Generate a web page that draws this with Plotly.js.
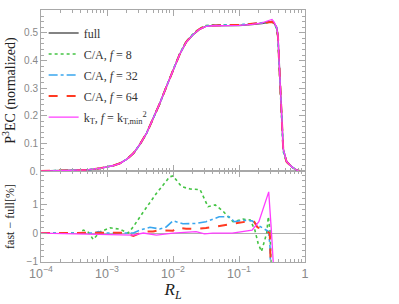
<!DOCTYPE html>
<html>
<head>
<meta charset="utf-8">
<script src="https://cdn.plot.ly/plotly-3.0.1.min.js"></script>
<style>html,body{margin:0;padding:0;background:#fff;}#chart{width:399px;height:304px;}</style>
</head>
<body>
<div id="chart"></div>
<script>
// ---- Top panel: normalized P3EC vs R_L ----
const rTop = [1e-4, 3.16e-4, 5.0e-4, 7.94e-4, 1.26e-3, 1.58e-3, 2.0e-3, 2.51e-3, 3.16e-3, 3.98e-3,
  5.01e-3, 6.31e-3, 7.94e-3, 0.01, 0.0126, 0.0158, 0.02, 0.0251, 0.0316, 0.0398,
  0.063, 0.1, 0.158, 0.224, 0.282, 0.316, 0.339, 0.372, 0.389, 0.417,
  0.468, 0.525, 0.631, 0.741, 0.832];
const topFull = [0, 0.001, 0.004, 0.010, 0.020, 0.028, 0.043, 0.064, 0.097, 0.137,
  0.188, 0.245, 0.305, 0.365, 0.422, 0.466, 0.493, 0.513, 0.524, 0.526,
  0.526, 0.527, 0.531, 0.534, 0.539, 0.541, 0.536, 0.520, 0.490, 0.340,
  0.080, 0.035, 0.015, 0.004, 0.000];
const topCA8 = [0, 0.001, 0.004, 0.010, 0.020, 0.028, 0.043, 0.064, 0.097, 0.137,
  0.188, 0.245, 0.306, 0.367, 0.424, 0.469, 0.496, 0.516, 0.527, 0.529,
  0.529, 0.529, 0.533, 0.535, 0.538, 0.540, 0.534, 0.515, 0.480, 0.320,
  0.070, 0.032, 0.014, 0.004, 0.000];
const topCA32 = [0, 0.001, 0.004, 0.010, 0.020, 0.028, 0.043, 0.064, 0.097, 0.137,
  0.188, 0.245, 0.305, 0.366, 0.423, 0.467, 0.494, 0.514, 0.525, 0.528,
  0.529, 0.529, 0.533, 0.536, 0.539, 0.541, 0.536, 0.518, 0.486, 0.330,
  0.075, 0.034, 0.015, 0.004, 0.000];
const topCA64 = [0, 0.001, 0.004, 0.010, 0.020, 0.028, 0.043, 0.064, 0.097, 0.137,
  0.188, 0.245, 0.305, 0.365, 0.422, 0.467, 0.494, 0.514, 0.525, 0.527,
  0.528, 0.529, 0.533, 0.536, 0.539, 0.540, 0.536, 0.518, 0.487, 0.335,
  0.078, 0.034, 0.015, 0.004, 0.000];
const topKT = [0, 0.001, 0.004, 0.010, 0.020, 0.028, 0.043, 0.064, 0.097, 0.137,
  0.188, 0.245, 0.305, 0.365, 0.422, 0.466, 0.493, 0.513, 0.524, 0.526,
  0.526, 0.527, 0.531, 0.536, 0.545, 0.549, 0.540, 0.520, 0.490, 0.340,
  0.080, 0.035, 0.015, 0.004, 0.000];

// ---- Bottom panel: (fast - full) in % ----
const rCA8 = [1e-4, 3.8e-4, 4.37e-4, 5.25e-4, 6.17e-4, 7.94e-4, 1.12e-3, 1.58e-3, 2.09e-3, 2.51e-3,
  3.55e-3, 5.62e-3, 8.9e-3, 0.01, 0.0135, 0.0182, 0.0257, 0.0339, 0.0437, 0.0575,
  0.0813, 0.115, 0.148, 0.174, 0.195, 0.219, 0.263, 0.278, 0.295, 0.305, 0.324];
const dCA8 = [0, 0, 0.10, 0.02, -0.22, 0.05, 0.18, 0.13, 0.0, 0.22,
  0.73, 1.37, 1.94, 1.97, 1.60, 1.52, 1.50, 0.91, 0.97, 0.75,
  0.39, 0.48, 0.45, 0.10, -0.36, -0.64, 0.0, 0.56, 0.10, -0.93, -3.0];

const rCA32 = [1e-4, 6.3e-4, 7.4e-4, 8.9e-4, 2.51e-3, 3.16e-3, 4.47e-3, 6.3e-3, 7.9e-3, 0.01,
  0.0141, 0.0224, 0.0316, 0.05, 0.0708, 0.085, 0.112, 0.158, 0.19, 0.251,
  0.282, 0.295, 0.316];
const dCA32 = [0, 0, 0.05, 0, 0.0, 0.10, 0.20, 0.14, 0.21, 0.42,
  0.32, 0.33, 0.39, 0.56, 0.56, 0.39, 0.44, 0.42, 0.28, 0.10,
  0.05, -0.47, -3.0];

const rCA64 = [1e-4, 1.78e-3, 2.51e-3, 3.55e-3, 5.0e-3, 6.3e-3, 0.01, 0.0112, 0.0158, 0.0224,
  0.0316, 0.05, 0.079, 0.126, 0.17, 0.19, 0.251, 0.292, 0.298, 0.316];
const dCA64 = [0, 0.01, -0.10, 0.05, 0.05, 0.10, 0.08, 0.18, 0.15, 0.14,
  0.17, 0.24, 0.31, 0.39, 0.39, 0.20, 0.08, 0.0, -0.59, -3.0];

const rKT = [1e-4, 2.51e-3, 3.55e-3, 5.6e-3, 0.01, 0.0224, 0.030, 0.04, 0.079, 0.126,
  0.158, 0.2, 0.251, 0.282, 0.309, 0.347, 0.372];
const dKT = [0, -0.07, 0, -0.07, 0.0, 0.05, -0.03, 0.0, 0.0, 0.05,
  0.10, 0.39, 1.02, 1.42, 0.10, -0.93, -3.0];

const topTickVals = [0, 0.1, 0.2, 0.3, 0.4, 0.5];
const topTickText = ['0.', '0.1', '0.2', '0.3', '0.4', '0.5'];
const botTickVals = [-1, 0, 1];
const botTickText = ['\u22121', '0', '1'];

const names = ['full', 'C/A, <i>f</i> = 8', 'C/A, <i>f</i> = 32', 'C/A, <i>f</i> = 64',
  'k<sub>T</sub>, <i>f</i> = k<sub>T,min</sub><sup>2</sup>'];
const colors = ['#5a5a5a', '#44c444', '#3aa6ee', '#ff3a22', '#ff3cff'];
const dashes = ['solid', 'dot', 'dashdot', 'dash', 'solid'];
const widths = [1.6, 1.6, 1.6, 2.0, 1.3];

const topY = [topFull, topCA8, topCA32, topCA64, topKT];
const traces = [];
for (let i = 0; i < 5; i++) {
  traces.push({
    x: rTop, y: topY[i], xaxis: 'x2', yaxis: 'y2', type: 'scatter', mode: 'lines',
    name: names[i], legendgroup: 'g' + i,
    line: {color: colors[i], dash: dashes[i], width: widths[i]}
  });
}
const botX = [rCA8, rCA32, rCA64, rKT];
const botY = [dCA8, dCA32, dCA64, dKT];
for (let i = 0; i < 4; i++) {
  traces.push({
    x: botX[i], y: botY[i], xaxis: 'x', yaxis: 'y', type: 'scatter', mode: 'lines',
    showlegend: false, legendgroup: 'g' + (i + 1),
    line: {color: colors[i + 1], dash: dashes[i + 1], width: widths[i + 1]}
  });
}

const serif = 'Liberation Serif, DejaVu Serif, serif';
const sans = 'Liberation Sans, DejaVu Sans, sans-serif';
const axCommon = {
  showline: true, linecolor: '#a8a8a8', linewidth: 1, mirror: 'allticks',
  ticks: 'inside', tickcolor: '#a8a8a8', ticklen: 6, tickwidth: 1,
  showgrid: false, zeroline: false,
  tickfont: {family: sans, size: 10, color: '#888'}
};
const layout = {
  width: 399, height: 304,
  margin: {l: 41, r: 94, t: 10, b: 42},
  paper_bgcolor: '#fff', plot_bgcolor: '#fff',
  showlegend: true,
  legend: {x: 0.01, y: 0.966, xanchor: 'left', yanchor: 'top', bgcolor: 'rgba(0,0,0,0)',
    font: {family: serif, size: 12, color: '#333'}, tracegroupgap: 2, traceorder: 'grouped'},
  xaxis: Object.assign({}, axCommon, {
    type: 'log', range: [-4, 0], anchor: 'y', domain: [0, 1], dtick: 1,
    exponentformat: 'power',
    minor: {dtick: 'D1', ticks: 'inside', ticklen: 3, tickcolor: '#a8a8a8', showgrid: false},
    title: {text: '<i>R</i><sub><i>L</i></sub>', font: {family: serif, size: 17, color: '#222'}, standoff: 1}
  }),
  xaxis2: Object.assign({}, axCommon, {
    type: 'log', range: [-4, 0], anchor: 'y2', matches: 'x', dtick: 1, showticklabels: false,
    minor: {dtick: 'D1', ticks: 'inside', ticklen: 3, tickcolor: '#a8a8a8', showgrid: false}
  }),
  yaxis: Object.assign({}, axCommon, {
    domain: [0, 0.361], range: [-1, 2.14], anchor: 'x',
    tickmode: 'array', tickvals: botTickVals, ticktext: botTickText,
    zeroline: true, zerolinecolor: '#b0b0b0', zerolinewidth: 1,
    minor: {dtick: 0.2, tick0: 0, ticks: 'inside', ticklen: 3, tickcolor: '#a8a8a8', showgrid: false},
    title: {text: 'fast \u2212 full[%]', font: {family: serif, size: 12, color: '#222'}, standoff: 9}
  }),
  yaxis2: Object.assign({}, axCommon, {
    domain: [0.361, 1], range: [0, 0.583], anchor: 'x2',
    tickmode: 'array', tickvals: topTickVals, ticktext: topTickText,
    minor: {dtick: 0.02, tick0: 0, ticks: 'inside', ticklen: 3, tickcolor: '#a8a8a8', showgrid: false},
    title: {text: 'P<sup>3</sup>EC (normalized)', font: {family: serif, size: 14, color: '#222'}, standoff: 8}
  })
};
Plotly.newPlot('chart', traces, layout, {staticPlot: true, displayModeBar: false});
</script>
</body>
</html>
